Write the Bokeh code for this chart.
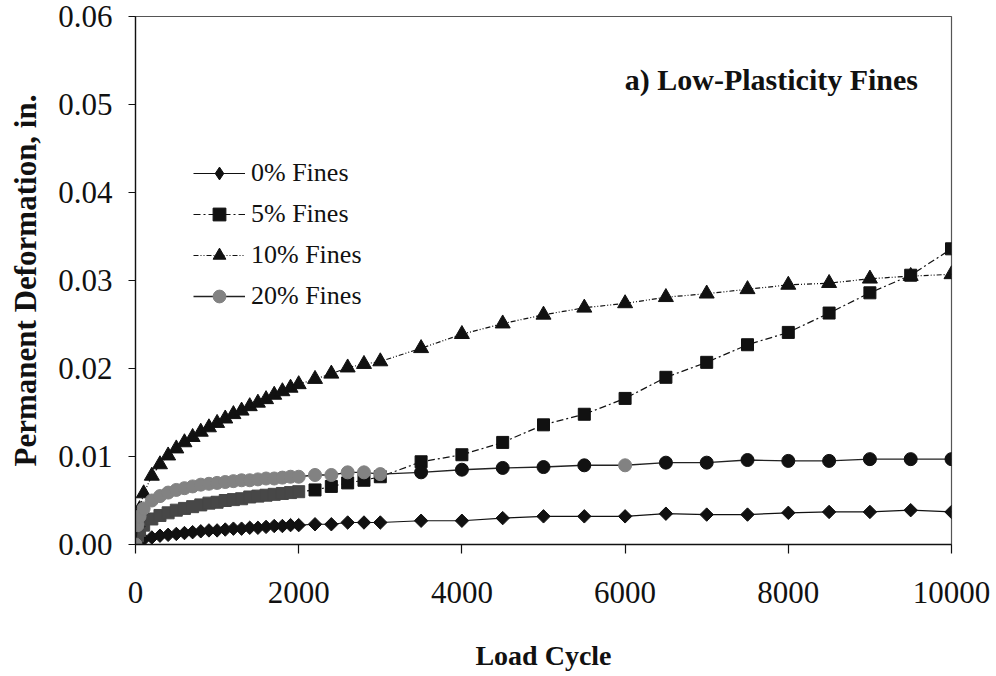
import math

from bokeh.plotting import figure
from bokeh.models import (ColumnDataSource, Legend, LegendItem, Label,
                          FixedTicker, Range1d, CustomJSTickFormatter,
                          CDSView, IndexFilter)
from bokeh.embed import file_html
from bokeh.resources import INLINE

# Load cycles at which permanent deformation was recorded
cycles = [0, 25, 50,
          100, 200, 300, 400, 500, 600, 700, 800, 900, 1000,
          1100, 1200, 1300, 1400, 1500, 1600, 1700, 1800, 1900, 2000,
          2200, 2400, 2600, 2800, 3000,
          3500, 4000, 4500, 5000, 5500, 6000, 6500, 7000, 7500,
          8000, 8500, 9000, 9500, 10000]

# Permanent deformation (in.) for each fines content
fines_0 = [0.0000, 0.0002, 0.0004,
           0.0006, 0.0008, 0.0010, 0.0011, 0.0012, 0.0013, 0.0014, 0.0015, 0.0016, 0.0016,
           0.0017, 0.0018, 0.0018, 0.0019, 0.0019, 0.0020, 0.0021, 0.0021, 0.0022, 0.0022,
           0.0023, 0.0023, 0.0025, 0.0025, 0.0025,
           0.0027, 0.0027, 0.0030, 0.0032, 0.0032, 0.0032, 0.0035, 0.0034, 0.0034,
           0.0036, 0.0037, 0.0037, 0.0039, 0.0037]

fines_5 = [0.0000, 0.0010, 0.0016,
           0.0022, 0.0029, 0.0033, 0.0036, 0.0039, 0.0041, 0.0043, 0.0045, 0.0047, 0.0048,
           0.0050, 0.0051, 0.0052, 0.0054, 0.0055, 0.0056, 0.0057, 0.0058, 0.0059, 0.0060,
           0.0062, 0.0066, 0.0070, 0.0073, 0.0077,
           0.0094, 0.0102, 0.0116, 0.0136, 0.0148, 0.0166, 0.0190, 0.0207, 0.0227,
           0.0241, 0.0263, 0.0286, 0.0306, 0.0336]

fines_10 = [0.0000, 0.0025, 0.0040,
            0.0058, 0.0078, 0.0091, 0.0101, 0.0109, 0.0116, 0.0122, 0.0128, 0.0133, 0.0138,
            0.0143, 0.0148, 0.0152, 0.0157, 0.0161, 0.0165, 0.0170, 0.0174, 0.0178, 0.0182,
            0.0188, 0.0194, 0.0201, 0.0205, 0.0208,
            0.0223, 0.0239, 0.0251, 0.0261, 0.0269, 0.0274, 0.0281, 0.0285, 0.0290,
            0.0295, 0.0297, 0.0302, 0.0305, 0.0307]

fines_20 = [0.0000, 0.0022, 0.0032,
            0.0041, 0.0050, 0.0055, 0.0059, 0.0062, 0.0064, 0.0066, 0.0068, 0.0069, 0.0070,
            0.0071, 0.0072, 0.0073, 0.0073, 0.0074, 0.0075, 0.0075, 0.0076, 0.0077, 0.0077,
            0.0079, 0.0079, 0.0082, 0.0082, 0.0080,
            0.0082, 0.0085, 0.0087, 0.0088, 0.0090, 0.0090, 0.0093, 0.0093, 0.0096,
            0.0095, 0.0095, 0.0097, 0.0097, 0.0097]

series_labels = ["0% Fines", "5% Fines", "10% Fines", "20% Fines"]
x_ticks = [0, 2000, 4000, 6000, 8000, 10000]
y_ticks = [0.00, 0.01, 0.02, 0.03, 0.04, 0.05, 0.06]

for s in (fines_0, fines_5, fines_10, fines_20):
    assert len(s) == len(cycles)

SERIF = "Liberation Serif"
INK = "#111111"
GRAY = "#828282"
DARK = "#474747"

p = figure(width=996, height=676, output_backend="svg", toolbar_location=None,
           x_range=Range1d(0, 10000), y_range=Range1d(0, 0.06),
           min_border_left=135, min_border_right=45,
           min_border_top=16, min_border_bottom=132,
           background_fill_color="white", border_fill_color="white")
p.grid.visible = False
p.outline_line_color = "#555555"
p.outline_line_width = 1.2

# axes
p.xaxis.ticker = FixedTicker(ticks=x_ticks)
p.yaxis.ticker = FixedTicker(ticks=y_ticks)
p.yaxis.formatter = CustomJSTickFormatter(code="return tick.toFixed(2);")
p.xaxis.formatter = CustomJSTickFormatter(code="return tick.toFixed(0);")
for ax in (p.xaxis, p.yaxis):
    ax.axis_line_color = INK
    ax.axis_line_width = 1.3
    ax.major_tick_line_color = INK
    ax.major_tick_line_width = 1.2
    ax.major_tick_in = 0
    ax.minor_tick_line_color = None
    ax.major_label_text_font = SERIF
    ax.major_label_text_font_size = "31px"
    ax.major_label_text_color = INK
    ax.axis_label_text_font = SERIF
    ax.axis_label_text_font_style = "bold"
    ax.axis_label_text_color = INK
p.xaxis.axis_label_text_font_size = "28px"
p.yaxis.axis_label_text_font_size = "31px"
p.xaxis.major_tick_out = 9
p.yaxis.major_tick_out = 7
p.xaxis.major_label_standoff = 28
p.yaxis.major_label_standoff = 16
p.xaxis.axis_label = "Load Cycle"
p.yaxis.axis_label = "Permanent Deformation, in."
p.xaxis.axis_label_standoff = 34
p.yaxis.axis_label_standoff = 12

# per-point fills: early 5% squares print dark grey, 20% circles grey
c5 = [DARK if n <= 2000 else INK for n in cycles]
c20 = [GRAY if (n <= 3000 or n == 6000) else INK for n in cycles]

src = ColumnDataSource(dict(x=cycles, f0=fines_0, f5=fines_5,
                            f10=fines_10, f20=fines_20, c5=c5, c20=c20))

# 0% fines: the starting point carries the legend's diamond swatch (the
# legend ignores marker angle); the rest are squares turned by 45 degrees
l0 = p.line("x", "f0", source=src, line_color=INK, line_width=1.2)
key0 = p.scatter("x", "f0", source=src, view=CDSView(filter=IndexFilter(indices=[0])),
                 marker="diamond", size=17, fill_color=INK, line_color=INK)
m0 = p.scatter("x", "f0", source=src, marker="square", size=9.5,
               angle=math.pi / 4, fill_color=INK, line_color=INK)

l5 = p.line("x", "f5", source=src, line_color=INK, line_width=1.2,
            line_dash="7 3 2 3")
m5 = p.scatter("x", "f5", source=src, marker="square", size=12,
               fill_color="c5", line_color="c5")

l10 = p.line("x", "f10", source=src, line_color=INK, line_width=1.2,
             line_dash="5 2 1 2 1 2")
m10 = p.scatter("x", "f10", source=src, marker="triangle", size=15,
                fill_color=INK, line_color=INK)

l20 = p.line("x", "f20", source=src, line_color="#222222", line_width=1.4)
m20 = p.scatter("x", "f20", source=src, marker="circle", size=13,
                fill_color="c20", line_color="c20")

legend = Legend(items=[
    LegendItem(label=series_labels[0], renderers=[l0, key0]),
    LegendItem(label=series_labels[1], renderers=[l5, m5], index=len(cycles) - 1),
    LegendItem(label=series_labels[2], renderers=[l10, m10]),
    LegendItem(label=series_labels[3], renderers=[l20, m20], index=0),
], location=(58, 232), orientation="vertical")
legend.background_fill_alpha = 0
legend.border_line_color = None
legend.margin = 0
legend.padding = 6
legend.spacing = 9
legend.glyph_width = 52
legend.glyph_height = 32
legend.label_height = 32
legend.label_standoff = 6
legend.label_text_font = SERIF
legend.label_text_font_size = "26px"
legend.label_text_color = INK
p.add_layout(legend)

p.add_layout(Label(x=9590, y=0.0528, text="a) Low-Plasticity Fines",
                   text_font=SERIF, text_font_size="30px",
                   text_font_style="bold", text_color=INK,
                   text_align="right", text_baseline="middle"))

open("out.html", "w").write(file_html(p, INLINE))
